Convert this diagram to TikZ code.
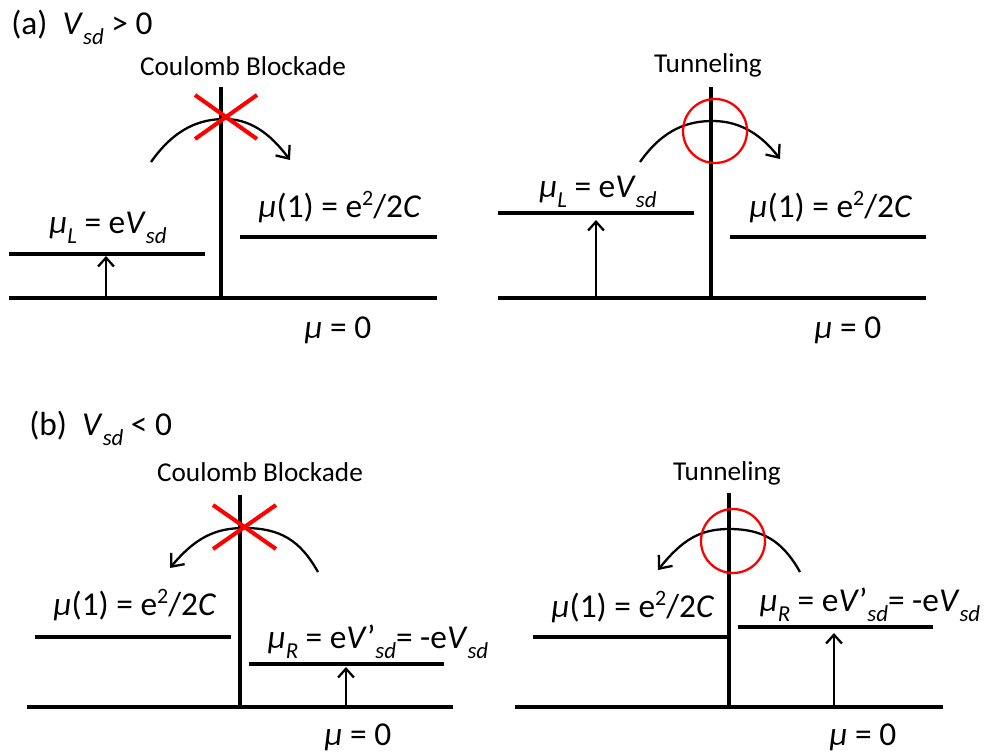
\documentclass[tikz,border=0pt]{standalone}
\usepackage{fontspec}
\setmainfont{Carlito}
\usetikzlibrary{arrows.meta}
\newcommand{\sub}[1]{\raisebox{-0.3em}{\fontsize{13}{14}\selectfont\itshape #1}}
\newcommand{\sqr}{\raisebox{0.36em}{\fontsize{12.5}{13}\selectfont 2}}
\newcommand{\vsd}{\textit{V}\sub{sd}}
\newcommand{\chem}{\textit{μ}}
\tikzset{
    % Energy levels and the tunnel barrier
    lvl/.style={line width=2.3pt},
    barrier/.style={line width=2.3pt},
    % Arrows: bias shift and electron hop
    rise/.style={line width=1.3pt, -{Straight Barb[length=5pt,width=9pt]}},
    hop/.style={line width=1.3pt, -{Straight Barb[length=6pt,width=10pt]}},
    % Blocked / allowed markers
    blockx/.style={red, line width=2.3pt},
    tunnelring/.style={circle, draw=red, line width=1.3pt,
        minimum size=1.28cm, inner sep=0pt},
    % Texts
    lab/.style={font=\fontsize{19}{22}\selectfont, inner sep=0pt},
    ttl/.style={font=\fontsize{15.5}{18}\selectfont, inner sep=0pt},
}
\begin{document}
\begin{tikzpicture}[x=0.02cm, y=-0.02cm]
  \useasboundingbox (0,0) rectangle (998,755);

  % (a) V_sd > 0 : Coulomb blockade
  \node[lab, anchor=west] (heada) at (11,27) {(a)\ \ \vsd\ > 0};
  \node[ttl] (cba) at (243,66) {Coulomb Blockade};
  \draw[lvl] (9,298) -- (437,298);
  \draw[barrier] (221,87) -- (221,298);
  \draw[lvl] (9,254) -- (205,254);
  \draw[lvl] (240,237) -- (437,237);
  \coordinate (riseA0) at (106,298);
  \coordinate (riseA1) at (106,256);
  \draw[rise] (riseA0) -- (riseA1);
  \coordinate (hopA0) at (151,162);
  \coordinate (hopAt) at (225,119);
  \coordinate (hopA1) at (290,160);
  \draw[hop] (hopA0) .. controls (175,128) and (200,119) .. (hopAt)
                     .. controls (255,119) and (275,140) .. (hopA1);
  \draw[blockx] (195,95) -- (257,139) (195,139) -- (257,95);
  \node[lab] (muLa) at (108,228) {\chem\sub{L} = e\vsd};
  \node[lab] (muOnea) at (340,207) {\chem(1) = e\sqr/2\textit{C}};
  \node[lab] (muZeroa) at (338,330) {\chem\ = 0};

  % (a) V_sd > 0 : tunneling
  \node[ttl] (tna) at (708,65) {Tunneling};
  \draw[lvl] (498,298) -- (926,298);
  \draw[barrier] (711,87) -- (711,298);
  \draw[lvl] (498,213) -- (694,213);
  \draw[lvl] (730,237) -- (926,237);
  \coordinate (riseB0) at (596,298);
  \coordinate (riseB1) at (596,220);
  \draw[rise] (riseB0) -- (riseB1);
  \coordinate (hopB0) at (640,162);
  \coordinate (hopBt) at (713,121);
  \coordinate (hopB1) at (780,159);
  \draw[hop] (hopB0) .. controls (664,128) and (689,121) .. (hopBt)
                     .. controls (743,121) and (764,138) .. (hopB1);
  \node[tunnelring] (ringa) at (715,131) {};
  \node[lab] (muLb) at (598,192) {\chem\sub{L} = e\vsd};
  \node[lab] (muOneb) at (831,207) {\chem(1) = e\sqr/2\textit{C}};
  \node[lab] (muZerob) at (848,330) {\chem\ = 0};

  % (b) V_sd < 0 : Coulomb blockade
  \node[lab, anchor=west] (headb) at (29,428) {(b)\ \ \vsd\ < 0};
  \node[ttl] (cbb) at (260,472) {Coulomb Blockade};
  \draw[lvl] (27,707) -- (453,707);
  \draw[barrier] (240,495) -- (240,707);
  \draw[lvl] (35,637) -- (231,637);
  \draw[lvl] (249,664) -- (444,664);
  \coordinate (riseC0) at (346,707);
  \coordinate (riseC1) at (346,667);
  \draw[rise] (riseC0) -- (riseC1);
  \coordinate (hopC0) at (318,572);
  \coordinate (hopCt) at (244,528);
  \coordinate (hopC1) at (170,568);
  \draw[hop] (hopC0) .. controls (300,540) and (280,528) .. (hopCt)
                     .. controls (215,528) and (195,538) .. (hopC1);
  \draw[blockx] (213,505) -- (276,549) (213,549) -- (276,505);
  \node[lab] (muOnec) at (135,605) {\chem(1) = e\sqr/2\textit{C}};
  \node[lab] (muRc) at (378,642) {\chem\sub{R} = e\textit{V}’\sub{sd}= -e\vsd};
  \node[lab] (muZeroc) at (358,737) {\chem\ = 0};

  % (b) V_sd < 0 : tunneling
  \node[ttl] (tnb) at (727,473) {Tunneling};
  \draw[lvl] (515,707) -- (943,707);
  \draw[barrier] (729,493) -- (729,707);
  \draw[lvl] (533,637) -- (729,637);
  \draw[lvl] (738,627) -- (933,627);
  \coordinate (riseD0) at (834,707);
  \coordinate (riseD1) at (834,633);
  \draw[rise] (riseD0) -- (riseD1);
  \coordinate (hopD0) at (800,572);
  \coordinate (hopDt) at (729,529);
  \coordinate (hopD1) at (658,570);
  \draw[hop] (hopD0) .. controls (782,540) and (762,529) .. (hopDt)
                     .. controls (700,529) and (682,540) .. (hopD1);
  \node[tunnelring] (ringb) at (733,541) {};
  \node[lab] (muOned) at (633,607) {\chem(1) = e\sqr/2\textit{C}};
  \node[lab] (muRd) at (870,605) {\chem\sub{R} = e\textit{V}’\sub{sd}= -e\vsd};
  \node[lab] (muZerod) at (863,737) {\chem\ = 0};
\end{tikzpicture}
\end{document}
